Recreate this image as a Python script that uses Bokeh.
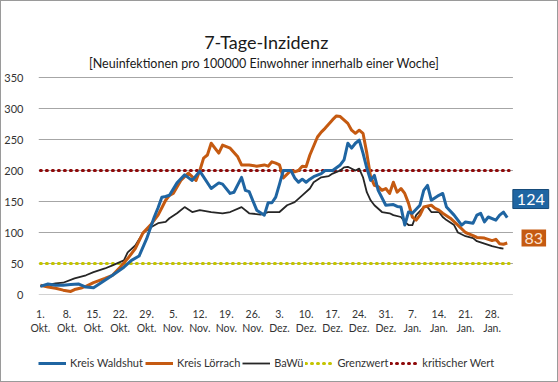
from bokeh.plotting import figure
from bokeh.layouts import column
from bokeh.models import (Range1d, FixedTicker, Label, Legend, LegendItem)
from bokeh.embed import file_html
from bokeh.resources import INLINE

# ---------------- data (day index 0 = 1. Okt.) ----------------
waldshut_days = [0, 2, 4, 6, 8, 10, 12, 14, 17, 19, 22, 24, 26, 28, 30, 31, 32, 33, 34, 36, 38, 40, 42,
                 45, 47, 48, 50, 51, 53, 54, 55, 57, 59, 60, 61, 62, 63, 64, 66, 67, 68, 69, 70, 71, 72,
                 74, 75, 77, 79, 80, 81, 82, 83, 84, 85, 86, 87, 88, 89, 91, 93, 94, 95, 96, 97, 98, 100,
                 101, 102, 103, 105, 106, 107, 109, 110, 111, 112, 114, 115, 116, 117, 118, 120, 121, 122, 123]
waldshut_vals = [13, 17, 15, 15, 16, 17, 12, 11, 23, 31, 44, 55, 62, 90, 125, 140, 157, 158, 160, 180, 193, 184, 199,
                 171, 180, 178, 163, 165, 189, 168, 166, 136, 128, 148, 148, 157, 178, 200, 200, 188, 181, 186, 181, 186, 190,
                 195, 200, 200, 209, 217, 244, 236, 244, 249, 228, 204, 184, 192, 168, 144, 145, 142, 141, 112, 133, 131, 144,
                 168, 176, 152, 160, 163, 141, 128, 120, 112, 117, 115, 128, 131, 117, 125, 120, 128, 133, 124]

loerrach_days = [0, 2, 4, 6, 8, 9, 11, 12, 14, 17, 19, 21, 23, 25, 27, 29, 31, 32, 33, 34, 35, 37, 39, 41, 42,
                 43, 44, 45, 47, 48, 50, 52, 53, 55, 57, 59, 60, 61, 62, 63, 64, 66, 67, 68, 69, 70, 71, 73,
                 74, 75, 77, 78, 79, 81, 82, 83, 84, 85, 86, 87, 88, 89, 90, 91, 92, 93, 94, 95, 96, 97, 98,
                 99, 100, 101, 103, 104, 105, 106, 108, 110, 112, 114, 115, 117, 119, 120, 121, 122, 123]
loerrach_vals = [15, 12, 10, 7, 5, 8, 11, 13, 19, 26, 31, 44, 58, 74, 99, 112, 128, 140, 152, 160, 163, 184, 196, 184, 200,
                 220, 225, 244, 228, 241, 236, 222, 209, 209, 207, 209, 207, 214, 212, 209, 188, 200, 198, 200, 207, 206, 225, 254,
                 262, 268, 282, 288, 287, 276, 265, 260, 265, 260, 228, 190, 176, 174, 168, 171, 163, 181, 165, 171, 163, 147, 125,
                 120, 128, 141, 144, 139, 136, 131, 123, 112, 100, 95, 92, 91, 87, 89, 82, 81, 83]

bawue_days = [0, 4, 6, 9, 12, 14, 17, 19, 22, 23, 25, 27, 29, 31, 33, 34, 36, 38, 40, 42, 45, 48, 50, 53, 55,
              58, 60, 63, 65, 67, 69, 71, 72, 74, 76, 77, 79, 80, 81, 83, 84, 85, 86, 87, 88, 90, 92, 93, 95,
              96, 97, 98, 99, 101, 102, 103, 105, 106, 107, 109, 110, 112, 114, 115, 117, 119, 121, 122]
bawue_vals = [13, 18, 19, 26, 31, 36, 42, 47, 55, 68, 79, 99, 108, 115, 117, 123, 131, 141, 133, 136, 133, 131, 133, 141, 131,
              129, 133, 133, 144, 149, 160, 171, 181, 189, 191, 195, 200, 205, 206, 200, 203, 189, 165, 152, 144, 133, 131, 128, 125,
              117, 112, 112, 128, 141, 141, 133, 133, 125, 120, 112, 100, 94, 91, 86, 82, 78, 75, 74]

grenzwert = 50
kritisch = 200

tick_days = [0, 7, 14, 21, 28, 35, 42, 49, 56, 63, 70, 77, 84, 91, 98, 105, 112, 119]
tick_labels = ["1.\nOkt.", "8.\nOkt.", "15.\nOkt.", "22.\nOkt.", "29.\nOkt.", "5.\nNov.", "12.\nNov.", "19.\nNov.",
               "26.\nNov.", "3.\nDez.", "10.\nDez.", "17.\nDez.", "24.\nDez.", "31.\nDez.", "7.\nJan.", "14.\nJan.",
               "21.\nJan.", "28.\nJan."]
y_ticks = [0, 50, 100, 150, 200, 250, 300, 350]

title_text = "7-Tage-Inzidenz"
subtitle_text = "[Neuinfektionen  pro 100000 Einwohner  innerhalb einer Woche]"
series_names = ["Kreis Waldshut", "Kreis Lörrach", "BaWü", "Grenzwert", "kritischer Wert"]

# ---------------- styling ----------------
FONT = "Lato"
BLUE = "#1F65A2"
ORANGE = "#C55A11"
BLACK = "#262626"
YELLOW = "#C4C400"
RED = "#8E0A0A"

PX_DAY = 3.832   # horizontal scale
PX_VAL = 0.62    # vertical scale
FRAME_LEFT = 32
FRAME_BOTTOM = 293
W, H1, H2 = 556, 340, 40
x_end = -0.5 + (W - FRAME_LEFT) / PX_DAY
y_top = FRAME_BOTTOM / PX_VAL

p = figure(width=W, height=H1, output_backend="svg", toolbar_location=None,
           x_range=Range1d(-0.5, x_end), y_range=Range1d(0, y_top),
           min_border_left=FRAME_LEFT, min_border_right=0, min_border_top=0,
           min_border_bottom=H1 - FRAME_BOTTOM)
p.outline_line_color = None
p.background_fill_color = "white"
p.border_fill_color = "white"

p.xgrid.grid_line_color = None
p.ygrid.grid_line_color = None
# horizontal gridlines over the plotting area only
p.segment(x0=[-0.5] * len(y_ticks), x1=[124.5] * len(y_ticks), y0=y_ticks, y1=y_ticks,
          line_color="#A6A6A6", line_width=1)

p.yaxis.ticker = FixedTicker(ticks=y_ticks)
p.yaxis.axis_line_color = None
p.yaxis.major_tick_line_color = None
p.yaxis.minor_tick_line_color = None
p.yaxis.major_label_standoff = 9
p.yaxis.major_label_text_font = FONT
p.yaxis.major_label_text_font_size = "11px"
p.yaxis.major_label_text_color = "#333333"

p.xaxis.ticker = FixedTicker(ticks=tick_days)
p.xaxis.major_label_overrides = {d: lab for d, lab in zip(tick_days, tick_labels)}
p.xaxis.axis_line_color = None
p.xaxis.major_tick_line_color = None
p.xaxis.minor_tick_line_color = None
p.xaxis.major_label_standoff = 7
p.xaxis.major_label_text_font = FONT
p.xaxis.major_label_text_font_size = "10.5px"
p.xaxis.major_label_text_color = "#333333"

line_styles = [dict(line_color=BLUE, line_width=3, line_join="round"),
               dict(line_color=ORANGE, line_width=3, line_join="round"),
               dict(line_color=BLACK, line_width=1.8, line_join="round"),
               dict(line_color=YELLOW, line_width=3, line_dash="1 5", line_cap="round"),
               dict(line_color=RED, line_width=3, line_dash="1 5", line_cap="round")]

p.line([0, 123.5], [grenzwert, grenzwert], **line_styles[3])
p.line([0, 123.5], [kritisch, kritisch], **line_styles[4])
p.line(bawue_days, bawue_vals, **line_styles[2])
p.line(loerrach_days, loerrach_vals, **line_styles[1])
p.line(waldshut_days, waldshut_vals, **line_styles[0])

p.add_layout(Label(x=59.5, y=406.5, text=title_text, text_align="center", text_baseline="middle",
                   text_font=FONT, text_font_size="18px", text_color="#1a1a1a"))
p.add_layout(Label(x=59.8, y=372.6, text=subtitle_text, text_align="center", text_baseline="middle",
                   text_font=FONT, text_font_size="12.5px", text_color="#1a1a1a"))

p.add_layout(Label(x=129.2, y=154, text=str(waldshut_vals[-1]), text_align="center", text_baseline="middle",
                   text_font=FONT, text_font_size="16px", text_color="white",
                   background_fill_color=BLUE, border_line_color="#154a78", border_line_width=1,
                   padding=4))
p.add_layout(Label(x=130.0, y=91, text=str(loerrach_vals[-1]), text_align="center", text_baseline="middle",
                   text_font=FONT, text_font_size="16px", text_color="#FBE3D3",
                   background_fill_color=ORANGE, padding=3))

# ---------------- legend strip ----------------
p2 = figure(width=W, height=H2, output_backend="svg", toolbar_location=None,
            x_range=Range1d(0, 1), y_range=Range1d(0, 1), x_axis_type=None, y_axis_type=None,
            min_border=0)
p2.outline_line_color = None
p2.xgrid.grid_line_color = None
p2.ygrid.grid_line_color = None
p2.background_fill_color = "white"
p2.border_fill_color = "white"
# key renderers kept outside the visible range; only their legend glyphs show
legend_renderers = [p2.line(x=[5, 6], y=[5, 6], **st) for st in line_styles]

legend = Legend(items=[LegendItem(label=n, renderers=[r]) for n, r in zip(series_names, legend_renderers)],
                orientation="horizontal", location=(0, 12),
                glyph_width=28, glyph_height=12, label_height=12, label_standoff=4, spacing=2,
                padding=0, margin=0, border_line_color=None, background_fill_alpha=0,
                label_text_font=FONT, label_text_font_size="11px", label_text_color="#333333")
p2.add_layout(legend)

layout = column(p, p2, spacing=0)
layout.styles = {"border": "1px solid #9a9a9a"}

open("out.html", "w").write(file_html(layout, INLINE))
